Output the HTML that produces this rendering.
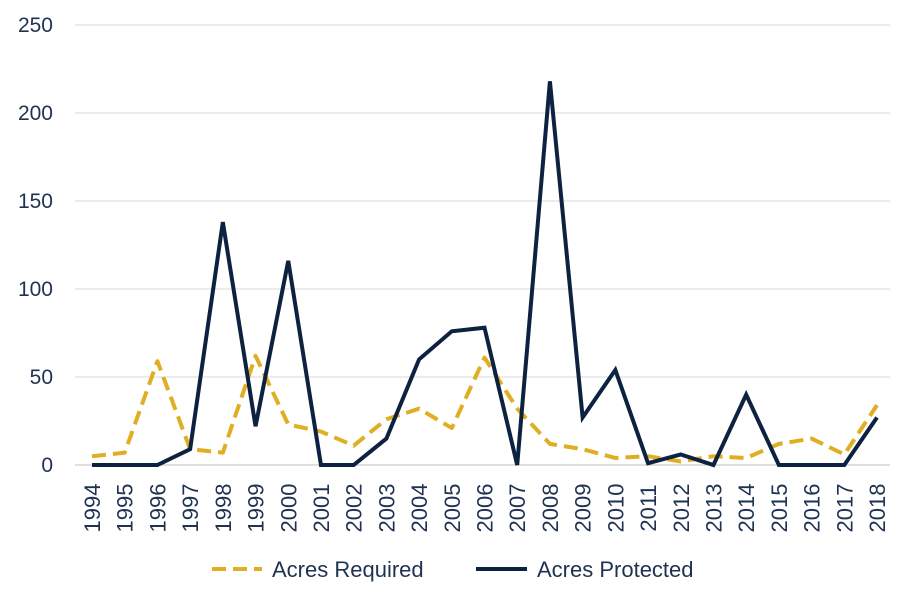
<!DOCTYPE html>
<html><head><meta charset="utf-8"><style>
body{margin:0;background:#fff;}
svg{display:block;font-family:"Liberation Sans",sans-serif;}
</style></head><body>
<svg id="chart" width="912" height="603"></svg>
<script>
const years=[1994,1995,1996,1997,1998,1999,2000,2001,2002,2003,2004,2005,2006,2007,2008,2009,2010,2011,2012,2013,2014,2015,2016,2017,2018];
const acresRequired=[5,7,59,9,7,62,23,19,11,26,32,21,61,32,12,9,4,5,2,5,4,12,15,6,34];
const acresProtected=[0,0,0,9,138,22,116,0,0,15,60,76,78,0,218,27,54,1,6,0,40,0,0,0,27];
const yTicks=[0,50,100,150,200,250];
const NS="http://www.w3.org/2000/svg";
const svg=document.getElementById('chart');
const x=i=>92+i*(877-92)/(years.length-1);
const y=v=>465-v*(465-25)/250;
function el(t,a,p){const e=document.createElementNS(NS,t);for(const k in a)e.setAttribute(k,a[k]);(p||svg).appendChild(e);return e;}
yTicks.forEach(t=>{
  const g=el('line',{x1:75,x2:890,y1:y(t),y2:y(t),stroke:t===0?'#bfbfbf':'#d9d9d9','stroke-width':1});
  
  
  const l=el('text',{x:53,y:y(t)+7,'text-anchor':'end','font-size':21,fill:'#1f3252'});
  l.textContent=t;
  
  
});
years.forEach((yr,i)=>{
  const t=el('text',{transform:`translate(${x(i)+8},${508}) rotate(-90)`,'text-anchor':'middle','font-size':22,fill:'#1f3252'});
  t.textContent=yr;
  
  
});
const pts=a=>a.map((v,i)=>x(i)+','+y(v)).join(' ');
const req=el('polyline',{points:pts(acresRequired),fill:'none',stroke:'#dfae22','stroke-width':4,'stroke-dasharray':'14,7','stroke-linejoin':'round'});


const pro=el('polyline',{points:pts(acresProtected),fill:'none',stroke:'#0d2240','stroke-width':4,'stroke-linejoin':'miter'});


const lg=el('g',{});


const l1=el('line',{x1:212,x2:262,y1:569,y2:569,stroke:'#dfae22','stroke-width':4,'stroke-dasharray':'14,7'},lg);


const t1=el('text',{x:272,y:577,'font-size':22,fill:'#1f3252'},lg);t1.textContent='Acres Required';


const l2=el('line',{x1:476,x2:527,y1:569,y2:569,stroke:'#0d2240','stroke-width':4},lg);


const t2=el('text',{x:537,y:577,'font-size':22,fill:'#1f3252'},lg);t2.textContent='Acres Protected';


</script>
</body></html>
